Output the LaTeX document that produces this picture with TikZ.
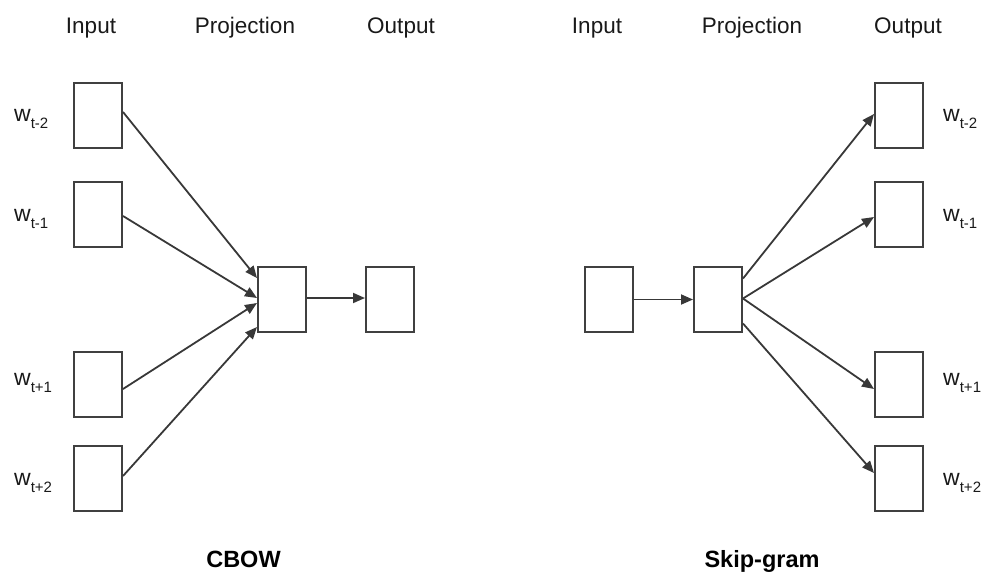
\documentclass[tikz,border=0pt]{standalone}
\usepackage{fontspec}
\setmainfont{Liberation Sans}
\usetikzlibrary{calc,arrows.meta}
\tikzset{
  wbox/.style={draw=black!75, line width=2pt, fill=white, minimum width=48pt, minimum height=65pt, inner sep=0pt},
  link/.style={draw=black!78, line width=1.8pt, -{Triangle[length=12pt,width=10pt]}},
  head/.style={anchor=base, text=black!90, font=\fontsize{22.5}{26}\selectfont, inner sep=0pt},
  title/.style={anchor=base, text=black, font=\fontsize{23.5}{27}\selectfont\bfseries, inner sep=0pt},
  wlab/.style={anchor=base west, text=black!90, font=\fontsize{23}{26}\selectfont, inner sep=0pt}
}
\newcommand{\wsub}[1]{w\raisebox{-7pt}{\fontsize{15}{17}\selectfont #1}}
\begin{document}
\begin{tikzpicture}[x=1pt,y=-1pt]
\useasboundingbox (0,0) rectangle (984,573);

% ---- CBOW ----
\node[head] (hinL) at (91,33) {Input};
\node[head] (hprL) at (245,33) {Projection};
\node[head] (houL) at (401,33) {Output};

\node[wbox] (li1) at (98,115.5) {};
\node[wbox] (li2) at (98,214) {};
\node[wbox] (li3) at (98,384) {};
\node[wbox] (li4) at (98,478) {};
\node[wbox] (lp)  at (282,299.5) {};
\node[wbox] (lo)  at (390,299.5) {};

\node[wlab] (lw1) at (14,121.5) {\wsub{t-2}};
\node[wlab] (lw2) at (14,221) {\wsub{t-1}};
\node[wlab] (lw3) at (14,385) {\wsub{t+1}};
\node[wlab] (lw4) at (14,485) {\wsub{t+2}};

\draw[link] ($(li1.east)+(0,-3.5)$) -- ($(lp.west)+(0,-21.5)$);
\draw[link] ($(li2.east)+(0,2)$) -- ($(lp.west)+(0,-1.5)$);
\draw[link] ($(li3.east)+(0,5)$) -- ($(lp.west)+(0,3.5)$);
\draw[link] ($(li4.east)+(0,-2)$) -- ($(lp.west)+(0,27.5)$);
\draw[link] ($(lp.east)+(0,-1.5)$) -- ($(lo.west)+(0,-1.5)$);

\node[title] (tcb) at (243.5,567) {CBOW};

% ---- Skip-gram ----
\node[head] (hinR) at (597,33) {Input};
\node[head] (hprR) at (752,33) {Projection};
\node[head] (houR) at (908,33) {Output};

\node[wbox] (ri)  at (609,299.5) {};
\node[wbox] (rp)  at (718,299.5) {};
\node[wbox] (ro1) at (899,115.5) {};
\node[wbox] (ro2) at (899,214) {};
\node[wbox] (ro3) at (899,384) {};
\node[wbox] (ro4) at (899,478) {};

\node[wlab] (rw1) at (943,121.5) {\wsub{t-2}};
\node[wlab] (rw2) at (943,221) {\wsub{t-1}};
\node[wlab] (rw3) at (943,385) {\wsub{t+1}};
\node[wlab] (rw4) at (943,485) {\wsub{t+2}};

\draw[link] (ri.east) -- (rp.west);
\draw[link] ($(rp.east)+(0,-21)$) -- ($(ro1.west)+(0,-1.5)$);
\draw[link] ($(rp.east)+(0,-1)$) -- ($(ro2.west)+(0,3)$);
\draw[link] ($(rp.east)+(0,-1)$) -- ($(ro3.west)+(0,5)$);
\draw[link] ($(rp.east)+(0,24)$) -- ($(ro4.west)+(0,-5)$);

\node[title] (tsg) at (762,567) {Skip-gram};
\end{tikzpicture}
\end{document}
